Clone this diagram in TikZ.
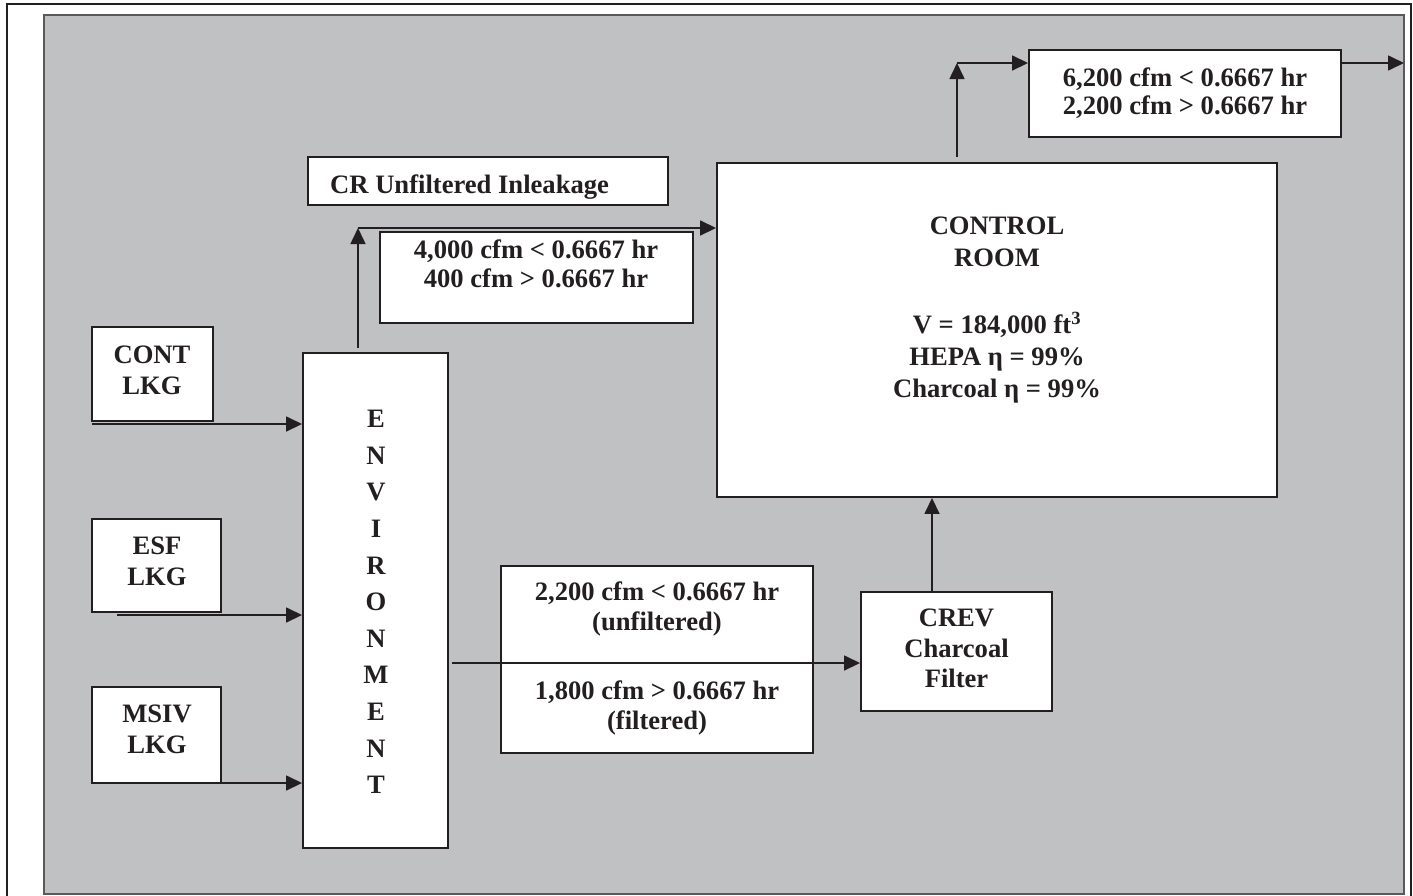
\documentclass[tikz,border=0pt]{standalone}
\usepackage{fontspec}
\setmainfont{Liberation Serif}
\usetikzlibrary{arrows.meta}
\definecolor{ink}{HTML}{231F20}
\definecolor{panel}{HTML}{C0C1C3}
\begin{document}
\begin{tikzpicture}[x=1pt,y=-1pt,
  box/.style={draw=ink, line width=1.9pt, fill=white, inner sep=0pt},
  txt/.style={text=ink, font=\bfseries\fontsize{26.6}{30}\selectfont, align=center, inner sep=0pt, anchor=north},
  arr/.style={draw=ink, line width=1.6pt, -{Triangle[length=16pt,width=15pt]}}]
\useasboundingbox (0,0) rectangle (1413,895);
% frames
\draw[ink, line width=2pt] (7,4) rectangle (1411,905);
\draw[black!65, line width=1.2pt, fill=panel] (44,15) rectangle (1404,894);
% boxes
\node[box, minimum width=360, minimum height=48] (crbox) at (488,181) {};
\node[box, minimum width=313, minimum height=91] (flow1) at (536.5,277.5) {};
\node[box, minimum width=560, minimum height=334] (cr) at (997,330) {};
\node[box, minimum width=312, minimum height=87] (out) at (1185,93.5) {};
\node[box, minimum width=121, minimum height=94] (cont) at (152.5,374) {};
\node[box, minimum width=129, minimum height=93] (esf) at (156.5,565.5) {};
\node[box, minimum width=129, minimum height=96] (msiv) at (156.5,735) {};
\node[box, minimum width=145, minimum height=495] (env) at (375.5,600.5) {};
\node[box, minimum width=312, minimum height=187] (mid) at (657,659.5) {};
\node[box, minimum width=191, minimum height=119] (crev) at (956.5,651.5) {};
% texts
\node[txt, anchor=base west] (crboxtxt) at (330,193) {CR Unfiltered Inleakage};
\node[txt, font=\bfseries\fontsize{26.6}{29}\selectfont] (flow1txt) at (536,240) {4,000 cfm < 0.6667 hr\\400 cfm > 0.6667 hr};
\node[txt, font=\bfseries\fontsize{26.6}{28}\selectfont] (outtxt) at (1185,68) {6,200 cfm < 0.6667 hr\\2,200 cfm > 0.6667 hr};
\node[txt, font=\bfseries\fontsize{26.6}{32}\selectfont] (crtxt) at (997,217) {CONTROL\\ROOM\\[35pt]V = 184,000 ft\textsuperscript{3}\\HEPA η = 99\%\\Charcoal η = 99\%};
\node[txt, font=\bfseries\fontsize{26.6}{31}\selectfont] (conttxt) at (152,346) {CONT\\LKG};
\node[txt, font=\bfseries\fontsize{26.6}{31}\selectfont] (esftxt) at (157,537) {ESF\\LKG};
\node[txt, font=\bfseries\fontsize{26.6}{31}\selectfont] (msivtxt) at (157,705) {MSIV\\LKG};
\node[txt, font=\bfseries\fontsize{26.6}{36.6}\selectfont] (envtxt) at (376,410) {E\\N\\V\\I\\R\\O\\N\\M\\E\\N\\T};
\node[txt] (midtxt1) at (657,582) {2,200 cfm < 0.6667 hr\\(unfiltered)};
\node[txt] (midtxt2) at (657,681) {1,800 cfm > 0.6667 hr\\(filtered)};
\node[txt, font=\bfseries\fontsize{26.6}{30.5}\selectfont] (crevtxt) at (956.5,609) {CREV\\Charcoal\\Filter};
% connectors
\coordinate (j1) at (358,228);
\draw[arr, shorten <=4pt] (j1 |- env.north) -- (j1);
\draw[arr] (j1) -- (j1 -| cr.west);
\coordinate (j2) at (957,63);
\draw[arr, shorten <=5pt] (j2 |- cr.north) -- (j2);
\draw[arr] (j2) -- (j2 -| out.west);
\coordinate (e3) at (1404,63);
\draw[arr] (j2 -| out.east) -- (e3);
\coordinate (c4) at (932,0);
\draw[arr] (c4 |- crev.north) -- (c4 |- cr.south);
\coordinate (m) at (452,663);
\draw[arr] (m) -- (m -| crev.west);
\coordinate (a1) at (92,424);
\coordinate (a2) at (117,615);
\coordinate (a3) at (117,783);
\draw[arr] (a1) -- (a1 -| env.west);
\draw[arr] (a2) -- (a2 -| env.west);
\draw[arr] (a3) -- (a3 -| env.west);
\end{tikzpicture}
\end{document}
